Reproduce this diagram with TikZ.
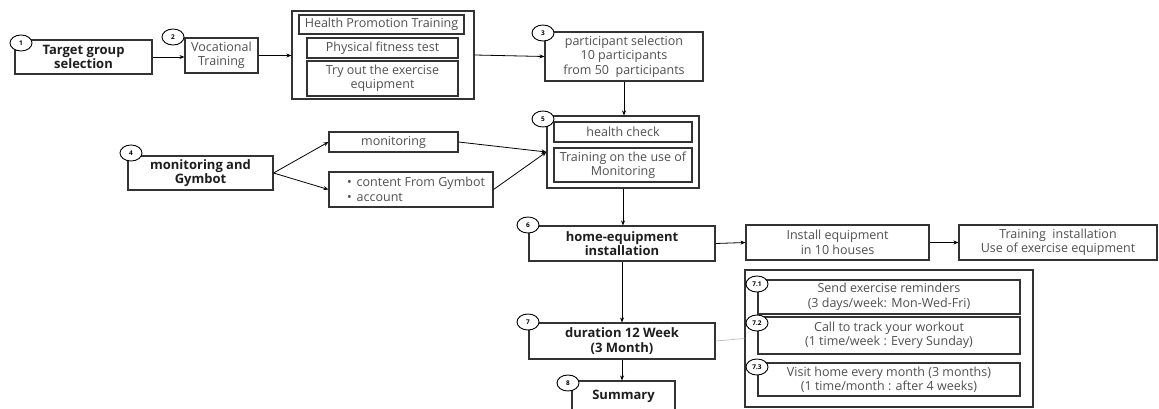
\documentclass[tikz,border=0pt]{standalone}
\usepackage{fontspec}
\setmainfont{Open Sans}
\usetikzlibrary{shapes.geometric,arrows.meta}

\definecolor{edge}{HTML}{333333}
\definecolor{txt}{HTML}{505050}
\definecolor{btxt}{HTML}{1E1E1E}
\definecolor{faint}{HTML}{BDBDBD}

\tikzset{
  box/.style={draw=edge, line width=1.1pt, fill=white, inner sep=0pt, align=center,
              text=txt, font=\fontsize{12.5}{14.5}\selectfont},
  strong/.style={text=btxt, font=\fontsize{13}{14.5}\selectfont\bfseries},
  badge/.style={ellipse, draw=black, fill=white, line width=0.9pt, minimum width=22pt,
                minimum height=16pt, inner sep=0pt, text=black,
                font=\fontsize{6.5}{6.5}\selectfont\bfseries},
  link/.style={draw=black, line width=0.8pt, -{Stealth[length=5pt,width=4pt]}},
  tie/.style={draw=faint, line width=0.7pt}
}

% \placebox{name}{x1}{y1}{x2}{y2}{extra style}{text}
\newcommand\placebox[7]{%
  \node[box,#6, minimum width={#4pt-#2pt}, minimum height={#5pt-#3pt}]
    (#1) at ({(#2+#4)/2},{(#3+#5)/2}) {#7};}

\begin{document}
\begin{tikzpicture}[x=1pt,y=-1pt]
\useasboundingbox (0,0) rectangle (1159,409);

% step 1 and 2
\placebox{n1}{15}{40}{152}{74}{strong}{Target group\\selection}
\placebox{n2}{185}{38}{258}{73}{}{Vocational\\Training}

% training block
\placebox{g1}{292}{11}{474}{99}{}{}
\placebox{hp}{299}{15}{464}{34}{}{Health Promotion Training}
\placebox{pf}{307}{38}{458}{58}{}{Physical fitness test}
\placebox{tr}{307}{61}{458}{96}{}{Try out the exercise\\equipment}

% step 3
\placebox{n3}{545}{32}{703}{81}{}{participant selection\\10 participants\\from 50\ \ participants}

% step 4 and its branches
\placebox{n4}{128}{156}{273}{190}{strong}{monitoring and\\Gymbot}
\placebox{mon}{329}{132}{458}{152}{}{monitoring}
\placebox{cont}{329}{172}{493}{207}{align=left}{\hspace{10pt}\textbullet\hspace{5pt}content From Gymbot\\\hspace{10pt}\textbullet\hspace{5pt}account}

% step 5
\placebox{g5}{547}{116}{699}{188}{}{}
\placebox{hc}{554}{122}{692}{142}{}{health check}
\placebox{tu}{554}{148}{692}{182}{}{Training on the use of\\Monitoring}

% step 6 and installation chain
\placebox{n6}{529}{226}{715}{261}{strong}{home-equipment\\installation}
\placebox{inst}{746}{225}{929}{260}{}{Install equipment\\in 10 houses}
\placebox{tinst}{959}{225}{1157}{260}{}{Training\ \ installation\\Use of exercise equipment}

% step 7, follow-up block and summary
\placebox{n7}{529}{323}{715}{359}{strong}{duration 12 Week\\(3 Month)}
\placebox{n8}{572}{381}{675}{411}{strong}{Summary}
\placebox{g7}{745}{270}{1033}{407}{}{}
\placebox{s1}{758}{280}{1020}{314}{}{Send exercise reminders\\(3 days/week: Mon-Wed-Fri)}
\placebox{s2}{758}{317}{1020}{354}{}{Call to track your workout\\(1 time/week : Every Sunday)}
\placebox{s3}{758}{363}{1020}{396}{}{Visit home every month (3 months)\\(1 time/month : after 4 weeks)}

% connectors
\draw[link] (n1.east) -- (n1.east -| n2.west);
\draw[link] (n2.east) -- (n2.east -| g1.west);
\draw[link] (g1.east) -- (n3.west);
\draw[link] (n3.south) -- (n3.south |- g5.north);
\draw[link] (n4.east) -- (mon.west);
\draw[link] (n4.east) -- (cont.west);
\draw[link] (mon.east) -- (g5.west);
\draw[link] (cont.east) -- (g5.west);
\draw[link] (g5.south) -- (g5.south |- n6.north);
\draw[link] (n6.east) -- (inst.west);
\draw[link] (inst.east) -- (tinst.west);
\draw[link] (n6.south) -- (n7.north);
\draw[link] (n7.south) -- (n7.south |- n8.north);
\draw[tie] (n7.east) -- (g7.west);

% step badges
\node[badge] (b1) at (21,43) {1};
\node[badge] (b2) at (173,37) {2};
\node[badge] (b3) at (543,33) {3};
\node[badge] (b4) at (131,153) {4};
\node[badge] (b5) at (543,119) {5};
\node[badge] (b6) at (528,225) {6};
\node[badge] (b7) at (528,322) {7};
\node[badge] (b8) at (568,383) {8};
\node[badge] (b71) at (757,284) {7.1};
\node[badge] (b72) at (757,323) {7.2};
\node[badge] (b73) at (757,367) {7.3};
\end{tikzpicture}
\end{document}
